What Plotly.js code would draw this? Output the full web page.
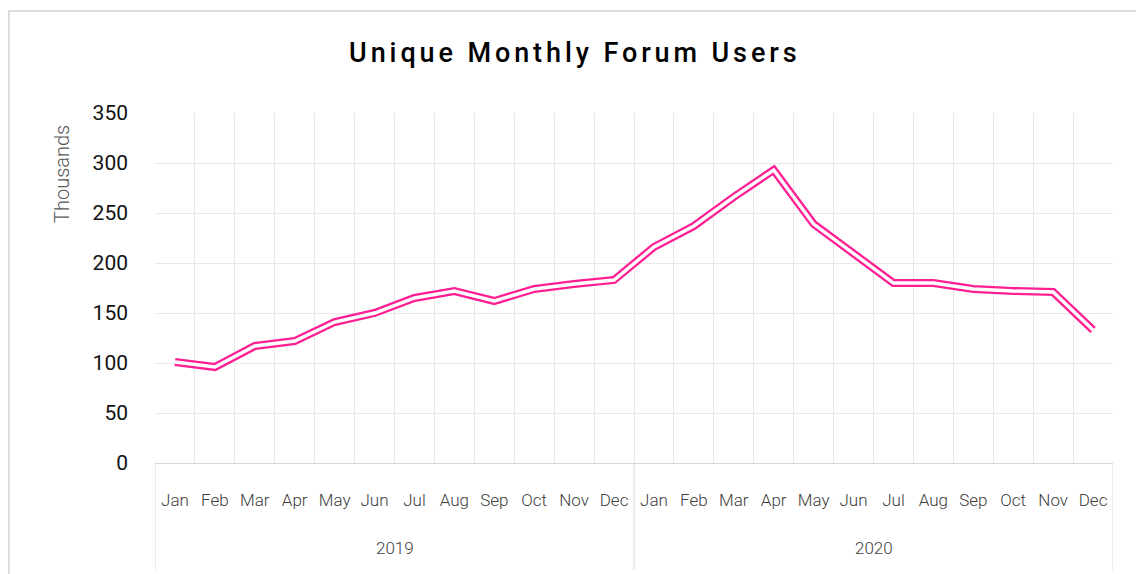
<!DOCTYPE html>
<html><head><meta charset="utf-8">
<script src="https://cdn.plot.ly/plotly-3.0.1.min.js"></script>
<style>
html,body{margin:0;padding:0;background:#fff;}
#wrap{position:relative;width:1136px;height:574px;overflow:hidden;}
#chart{width:1136px;height:574px;}
#frame{position:absolute;left:8px;top:10px;width:1140px;height:580px;border-left:2px solid #dcdcdc;border-top:2px solid #dcdcdc;pointer-events:none;}
.gtitle{letter-spacing:3.9px;}
</style></head><body>
<div id="wrap"><div id="chart"></div><div id="frame"></div></div>
<script>
const monthNames = ['Jan','Feb','Mar','Apr','May','Jun','Jul','Aug','Sep','Oct','Nov','Dec'];
const yearNames = ['2019','2020'];
const users2019 = [101, 96, 117, 122, 141, 150, 165, 172, 162, 174, 179, 183];
const users2020 = [216, 237, 266, 293, 239, 209, 180, 180, 174, 172, 171, 133];
const yTicks = [0, 50, 100, 150, 200, 250, 300, 350];

const users = users2019.concat(users2020);
const xIdx = users.map((_, i) => i);
const xLabels = [];
yearNames.forEach(() => monthNames.forEach(m => xLabels.push(m)));
const n = users.length;
const perYear = monthNames.length;

const pink = '#ff1f93';
const traces = [
  {x: xIdx, y: users, type: 'scatter', mode: 'lines',
   line: {color: pink, width: 8}, hoverinfo: 'skip', showlegend: false},
  {x: xIdx, y: users, type: 'scatter', mode: 'lines',
   line: {color: '#ffffff', width: 3.4}, hoverinfo: 'skip', showlegend: false}
];

const dividerBottom = -0.306;
const shapes = [];
for (let k = 0; k <= yearNames.length; k++) {
  shapes.push({type: 'line', xref: 'x', yref: 'paper', x0: k * perYear - 0.5, x1: k * perYear - 0.5,
               y0: 0, y1: dividerBottom, line: {color: '#d9d9d9', width: 1}});
}
const annotations = yearNames.map((y, k) => ({
  text: y, xref: 'x', yref: 'paper', x: k * perYear + (perYear - 1) / 2, y: -0.243,
  xanchor: 'center', yanchor: 'middle', showarrow: false,
  font: {family: 'Roboto', size: 17, color: '#404040', weight: 300}
}));
annotations.push({text: 'Thousands', xref: 'paper', yref: 'paper', x: -0.097, y: 0.826,
                 xanchor: 'center', yanchor: 'middle', textangle: -90, showarrow: false,
                 font: {family: 'Roboto', size: 20, color: '#595959', weight: 300}});

const layout = {
  width: 1136, height: 574,
  margin: {l: 155, r: 23, t: 113, b: 111},
  paper_bgcolor: '#ffffff', plot_bgcolor: '#ffffff',
  showlegend: false,
  title: {text: 'Unique Monthly Forum Users', xref: 'container', x: 0.506, xanchor: 'center',
          yref: 'container', y: 0.908, yanchor: 'middle',
          font: {family: 'Roboto', size: 27, color: '#000000', weight: 500}},
  xaxis: {type: 'linear', range: [-0.5, n - 0.5], tickvals: xIdx, ticktext: xLabels,
          showgrid: false, zeroline: false,
          minor: {tick0: -0.5, dtick: 1, showgrid: true, gridcolor: '#e8e8e8', gridwidth: 1, ticks: ''},
          showline: true, linecolor: '#d9d9d9', linewidth: 1, ticks: '', tickangle: 0,
          ticklabelstandoff: 22,
          tickfont: {family: 'Roboto', size: 17, color: '#404040', weight: 300},
          fixedrange: true},
  yaxis: {range: [0, 350], tickvals: yTicks, ticktext: yTicks.map(String), showgrid: true, gridcolor: '#e8e8e8', gridwidth: 1,
          zeroline: false, showline: false, ticks: '', ticklabelstandoff: 26,
          tickfont: {family: 'Roboto', size: 21, color: '#111111', weight: 400}, fixedrange: true},
  shapes: shapes,
  annotations: annotations
};

Plotly.newPlot('chart', traces, layout, {displayModeBar: false, staticPlot: true});
</script>
</body></html>
